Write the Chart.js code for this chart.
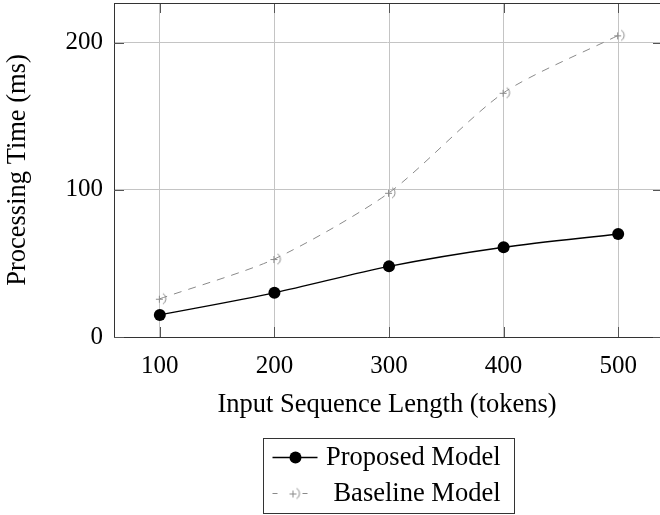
<!DOCTYPE html>
<html><head><meta charset="utf-8">
<script src="https://cdn.jsdelivr.net/npm/chart.js@4"></script>
<style>
html,body{margin:0;padding:0;overflow:hidden;background:#fff;}
canvas{display:block;}
</style></head><body>
<canvas id="c" width="660" height="515" style="width:660px;height:515px"></canvas>
<script>
const lengths = [100, 200, 300, 400, 500];
const proposed = [15, 30, 48, 61, 70];
const baseline = [26, 53, 98, 166, 205];
const xTicks = [100, 200, 300, 400, 500];
const yTicks = [0, 100, 200];
const seriesNames = ['Proposed Model', 'Baseline Model'];
const xTitle = 'Input Sequence Length (tokens)';
const yTitle = 'Processing Time (ms)';
const xRange = [60, 536.5];
const yRange = [0, 227];

const SERIF = '"Liberation Serif", "Times New Roman", serif';
const GRAY = '#8a8a8a';

function makeMarker() {
  const c = document.createElement('canvas');
  c.width = 16; c.height = 16;
  const g = c.getContext('2d');
  g.strokeStyle = GRAY; g.lineWidth = 1;
  g.beginPath();
  g.moveTo(4, 8.5); g.lineTo(11, 8.5);
  g.moveTo(7.5, 5); g.lineTo(7.5, 12);
  g.stroke();
  g.beginPath();
  g.arc(8, 8, 6, -Math.PI / 3, Math.PI / 3);
  g.stroke();
  return c;
}
const marker = makeMarker();

const frame = {
  id: 'frame',
  beforeDatasetsDraw(chart) {
    const {ctx, chartArea: a, scales: {x, y}} = chart;
    ctx.save();
    ctx.strokeStyle = '#555';
    ctx.lineWidth = 1;
    ctx.beginPath();
    xTicks.forEach(v => {
      const px = Math.round(x.getPixelForValue(v)) + 0.5;
      ctx.moveTo(px, a.top); ctx.lineTo(px, a.top + 10);
      ctx.moveTo(px, a.bottom); ctx.lineTo(px, a.bottom - 10);
    });
    yTicks.forEach(v => {
      const py = Math.round(y.getPixelForValue(v)) + 0.5;
      ctx.moveTo(a.left, py); ctx.lineTo(a.left + 10, py);
      ctx.moveTo(a.right, py); ctx.lineTo(a.right - 7, py);
    });
    ctx.stroke();
    ctx.strokeStyle = '#333';
    ctx.beginPath();
    ctx.moveTo(a.left, Math.round(a.top) + 0.5); ctx.lineTo(a.right, Math.round(a.top) + 0.5);
    ctx.stroke();
    ctx.restore();
  },
  afterDraw(chart) {
    const {ctx, chartArea: a} = chart;
    const boxW = 251, boxH = 75;
    const left = 263.5, top = 438.5;
    ctx.save();
    ctx.fillStyle = '#fff';
    ctx.fillRect(left, top, boxW, boxH);
    ctx.strokeStyle = '#333'; ctx.lineWidth = 1;
    ctx.strokeRect(left, top, boxW, boxH);
    const rows = [top + 19, top + 55];
    ctx.strokeStyle = '#000'; ctx.lineWidth = 1.3;
    ctx.beginPath(); ctx.moveTo(left + 9, rows[0]); ctx.lineTo(left + 54, rows[0]); ctx.stroke();
    ctx.fillStyle = '#000';
    ctx.beginPath(); ctx.arc(left + 32, rows[0], 6, 0, Math.PI * 2); ctx.fill();
    ctx.strokeStyle = GRAY; ctx.lineWidth = 1;
    ctx.setLineDash([5, 25]);
    ctx.beginPath(); ctx.moveTo(left + 9, rows[1]); ctx.lineTo(left + 45, rows[1]); ctx.stroke();
    ctx.setLineDash([]);
    ctx.drawImage(marker, left + 22, rows[1] - 8);
    ctx.fillStyle = '#000';
    ctx.font = '26.5px ' + SERIF;
    ctx.textAlign = 'right'; ctx.textBaseline = 'middle';
    ctx.fillText(seriesNames[0], left + 237, rows[0] + 1);
    ctx.fillText(seriesNames[1], left + 237, rows[1] + 1);
    ctx.restore();
  }
};

function noPad(s) { s.paddingTop = 0; s.paddingBottom = 0; s.paddingLeft = 0; s.paddingRight = 0; }

new Chart(document.getElementById('c'), {
  type: 'line',
  data: {
    datasets: [
      {
        label: seriesNames[0],
        data: lengths.map((v, i) => ({x: v, y: proposed[i]})),
        borderColor: '#000', borderWidth: 1.3,
        pointRadius: 6, pointBackgroundColor: '#000', pointBorderWidth: 0,
        tension: 0.3
      },
      {
        label: seriesNames[1],
        data: lengths.map((v, i) => ({x: v, y: baseline[i]})),
        borderColor: GRAY, borderWidth: 1, borderDash: [8, 7],
        pointStyle: marker, pointRadius: 8,
        tension: 0.25
      }
    ]
  },
  options: {
    responsive: false,
    animation: false,
    layout: {autoPadding: false, padding: {left: 0, top: 3, right: 0, bottom: 94}},
    plugins: {legend: {display: false}, tooltip: {enabled: false}},
    scales: {
      x: {
        type: 'linear', min: xRange[0], max: xRange[1],
        afterBuildTicks: s => { s.ticks = xTicks.map(v => ({value: v})); },
        afterFit: s => { s.height = 84; noPad(s); },
        grid: {color: '#c4c4c4', drawTicks: false},
        border: {color: '#333', width: 1},
        ticks: {color: '#000', font: {family: SERIF, size: 25}, padding: 14, maxRotation: 0},
        title: {display: true, text: xTitle, color: '#000', font: {family: SERIF, size: 26.5}, padding: 0}
      },
      y: {
        type: 'linear', min: yRange[0], max: yRange[1],
        afterBuildTicks: s => { s.ticks = yTicks.map(v => ({value: v})); },
        afterFit: s => { s.width = 114; noPad(s); },
        grid: {color: '#c4c4c4', drawTicks: false},
        border: {color: '#333', width: 1},
        ticks: {color: '#000', font: {family: SERIF, size: 25}, padding: 11},
        title: {display: true, text: yTitle, color: '#000', font: {family: SERIF, size: 26.5}, padding: {top: 2, bottom: 0}}
      }
    }
  },
  plugins: [frame]
});
</script>
</body></html>
